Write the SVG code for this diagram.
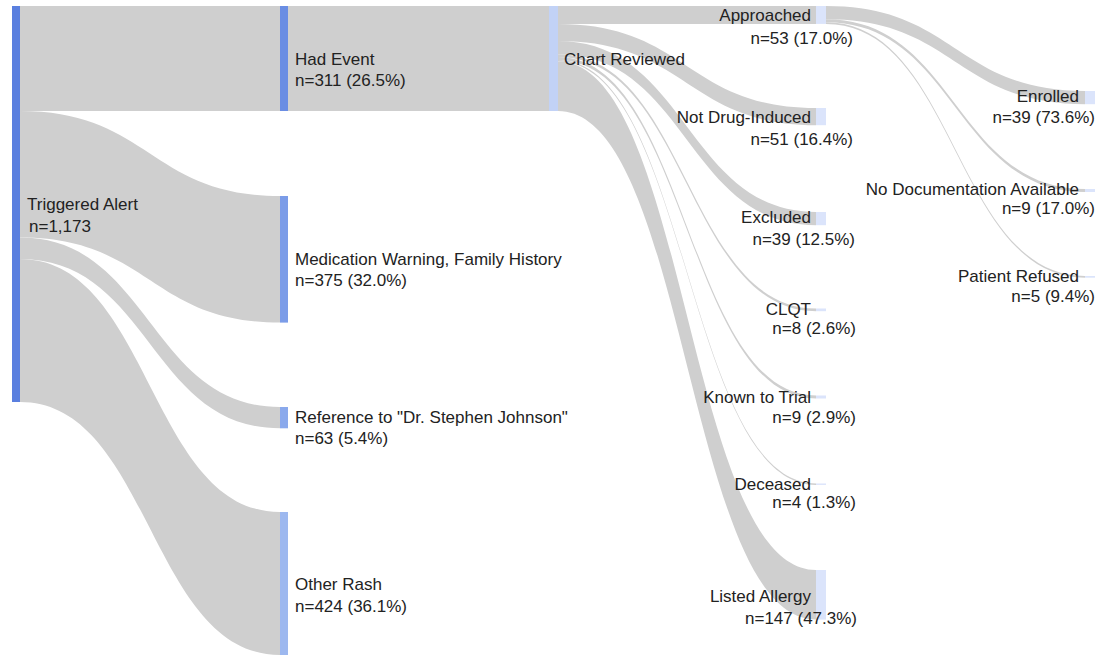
<svg xmlns="http://www.w3.org/2000/svg" width="1099" height="655" viewBox="0 0 1099 655">
<style>
.lk{fill:#cfcfcf;stroke:none}
text{font-family:"Liberation Sans",Arial,Helvetica,sans-serif;font-size:17px;fill:#222}
.e{text-anchor:end}
</style>
<rect width="1099" height="655" fill="#fff"/>
<g id="connectors">
<path class="lk" d="M20 6 L280 6 L280 111 L20 111 Z"/>
<path class="lk" d="M20 111 C150 111,150 196,280 196 L280 322.6 C150 322.6,150 237.6,20 237.6 Z"/>
<path class="lk" d="M20 237.6 C150 237.6,150 407,280 407 L280 428.3 C150 428.3,150 258.9,20 258.9 Z"/>
<path class="lk" d="M20 258.9 C150 258.9,150 512,280 512 L280 655 C150 655,150 402,20 402 Z"/>
<path class="lk" d="M288 6 L549 6 L549 111 L288 111 Z"/>
<path class="lk" d="M558 6 L816 6 L816 23.9 L558 23.9 Z"/>
<path class="lk" d="M558 23.9 C687 23.9,687 108,816 108 L816 125.2 C687 125.2,687 41.1,558 41.1 Z"/>
<path class="lk" d="M558 41.1 C687 41.1,687 212,816 212 L816 225.2 C687 225.2,687 54.3,558 54.3 Z"/>
<path class="lk" d="M558 54.3 C687 54.3,687 308.5,816 308.5 L816 311.2 C687 311.2,687 57,558 57 Z"/>
<path class="lk" d="M558 57 C687 57,687 395.5,816 395.5 L816 398.5 C687 398.5,687 60,558 60 Z"/>
<path class="lk" d="M558 60 C687 60,687 483.5,816 483.5 L816 484.9 C687 484.9,687 61.4,558 61.4 Z"/>
<path class="lk" d="M558 61.4 C687 61.4,687 570,816 570 L816 619.6 C687 619.6,687 111,558 111 Z"/>
<path class="lk" d="M826 6 C955.5 6,955.5 91,1085 91 L1085 104.2 C955.5 104.2,955.5 19.2,826 19.2 Z"/>
<path class="lk" d="M826 19.2 C955.5 19.2,955.5 189,1085 189 L1085 192 C955.5 192,955.5 22.2,826 22.2 Z"/>
<path class="lk" d="M826 22.2 C955.5 22.2,955.5 276,1085 276 L1085 277.7 C955.5 277.7,955.5 23.9,826 23.9 Z"/>
</g>
<g id="triggered-alert">
<rect x="12" y="6" width="8" height="396" fill="#5a7fdf"/>
<text x="27" y="210">Triggered Alert</text>
<text x="29" y="232">n=1,173</text>
</g>
<g id="had-event">
<rect x="280" y="6" width="8" height="105" fill="#6a8de3"/>
<text x="295" y="65">Had Event</text>
<text x="295" y="86">n=311 (26.5%)</text>
</g>
<g id="medication-warning">
<rect x="280" y="196" width="8" height="126.6" fill="#7b9ce8"/>
<text x="295" y="265">Medication Warning, Family History</text>
<text x="295" y="286">n=375 (32.0%)</text>
</g>
<g id="reference">
<rect x="280" y="407" width="8" height="21.3" fill="#8aa9ec"/>
<text x="295" y="423">Reference to "Dr. Stephen Johnson"</text>
<text x="295" y="444">n=63 (5.4%)</text>
</g>
<g id="other-rash">
<rect x="280" y="512" width="8" height="143" fill="#9db8ef"/>
<text x="295" y="590">Other Rash</text>
<text x="295" y="612">n=424 (36.1%)</text>
</g>
<g id="chart-reviewed">
<rect x="549" y="6" width="9" height="105" fill="#c2d2f6"/>
<text x="564" y="65">Chart Reviewed</text>
</g>
<g id="approached">
<rect x="816" y="6" width="10" height="17.9" fill="#dbe4fb"/>
<text class="e" x="811" y="21">Approached</text>
<text class="e" x="853" y="44">n=53 (17.0%)</text>
</g>
<g id="not-drug-induced">
<rect x="816" y="108" width="10" height="17.2" fill="#dbe4fb"/>
<text class="e" x="811" y="123">Not Drug-Induced</text>
<text class="e" x="853" y="145">n=51 (16.4%)</text>
</g>
<g id="excluded">
<rect x="816" y="212" width="10" height="13.2" fill="#dbe4fb"/>
<text class="e" x="811" y="223">Excluded</text>
<text class="e" x="855" y="245">n=39 (12.5%)</text>
</g>
<g id="clqt">
<rect x="816" y="308.5" width="10" height="2.7" fill="#dbe4fb"/>
<text class="e" x="811" y="315">CLQT</text>
<text class="e" x="856" y="334">n=8 (2.6%)</text>
</g>
<g id="known-to-trial">
<rect x="816" y="395.5" width="10" height="3" fill="#dbe4fb"/>
<text class="e" x="811" y="403">Known to Trial</text>
<text class="e" x="856" y="423">n=9 (2.9%)</text>
</g>
<g id="deceased">
<rect x="816" y="483.5" width="10" height="1.4" fill="#dbe4fb"/>
<text class="e" x="811" y="490">Deceased</text>
<text class="e" x="856" y="508">n=4 (1.3%)</text>
</g>
<g id="listed-allergy">
<rect x="816" y="570" width="10" height="49.6" fill="#dbe4fb"/>
<text class="e" x="811" y="602">Listed Allergy</text>
<text class="e" x="857" y="624">n=147 (47.3%)</text>
</g>
<g id="enrolled">
<rect x="1085" y="91" width="10" height="13.2" fill="#dbe4fb"/>
<text class="e" x="1079" y="102">Enrolled</text>
<text class="e" x="1095" y="123">n=39 (73.6%)</text>
</g>
<g id="no-documentation">
<rect x="1085" y="189" width="10" height="3" fill="#dbe4fb"/>
<text class="e" x="1079" y="195">No Documentation Available</text>
<text class="e" x="1095" y="214">n=9 (17.0%)</text>
</g>
<g id="patient-refused">
<rect x="1085" y="276" width="10" height="1.7" fill="#dbe4fb"/>
<text class="e" x="1079" y="282">Patient Refused</text>
<text class="e" x="1095" y="302">n=5 (9.4%)</text>
</g>
</svg>
